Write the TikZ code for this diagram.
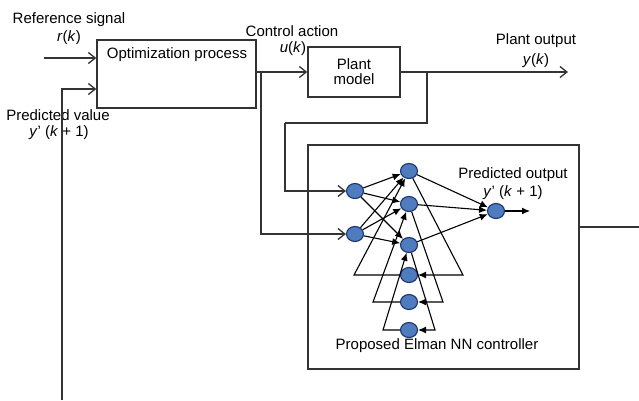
\documentclass[tikz,border=0pt]{standalone}
\usepackage{fontspec}
\setmainfont{Liberation Sans}
\usetikzlibrary{arrows.meta,shapes.geometric}

\definecolor{nnblue}{RGB}{79,124,190}
\definecolor{nnedge}{RGB}{28,52,110}

\begin{document}
\begin{tikzpicture}[x=1pt, y=-1pt, font=\fontsize{15}{17}\selectfont,
    block/.style={draw=black!80, line width=1.3pt, rectangle, inner sep=0pt},
    neuron/.style={ellipse, draw=nnedge, fill=nnblue, line width=1.1pt, minimum width=17pt, minimum height=15pt, inner sep=0pt},
    flow/.style={draw=black!80, line width=1.3pt, -{Straight Barb[length=7pt,width=11pt]}},
    wire/.style={draw=black!80, line width=1.3pt},
    link/.style={line width=1.1pt, -{Latex[length=8pt,width=7pt]}},
    txt/.style={inner sep=0pt, align=center}]

\useasboundingbox (0,0) rectangle (639,400);

% Blocks
\node[block, minimum width=159pt, minimum height=68pt] (opt) at (176.5,74) {};
\node[block, minimum width=92pt, minimum height=50pt, align=center] (plant) at (354,72) {Plant\\[-2pt]model};
\node[block, minimum width=271pt, minimum height=224pt] (elman) at (443.5,257) {};

% Texts
\node[txt] (optlabel) at (177,55) {Optimization process};
\node[txt] (reflabel) at (69,20) {Reference signal};
\node[txt] (rk) at (69,38) {\textit{r}(\textit{k})};
\node[txt] (predlabel) at (58,115) {Predicted value};
\node[txt] (predval) at (59,133) {\textit{y}' (\textit{k} + 1)};
\node[txt] (ctrllabel) at (292,31) {Control action};
\node[txt] (uk) at (293,49) {\textit{u}(\textit{k})};
\node[txt] (plantlabel) at (536,41) {Plant output};
\node[txt] (yk) at (536,61) {\textit{y}(\textit{k})};
\node[txt] (outlabel) at (513,175) {Predicted output};
\node[txt] (outval) at (513,193) {\textit{y}' (\textit{k} + 1)};
\node[txt] (elmanlabel) at (437,346) {Proposed Elman NN controller};

% Neurons
\node[neuron] (in1) at (355,191) {};
\node[neuron] (in2) at (355,234) {};
\foreach \i/\y in {1/171, 2/204, 3/245} {
    \node[neuron] (h\i) at (409,\y) {};
}
\foreach \i/\y in {1/275, 2/302, 3/330} {
    \node[neuron] (c\i) at (409,\y) {};
}
\node[neuron] (out) at (496,211) {};

% Free ends and corners
\coordinate (refin) at (44,58);
\coordinate (fbstart) at (62,400);
\coordinate (fbturn) at (62,89);
\coordinate (ubranch) at (261,72);
\coordinate (yout) at (568,72);
\coordinate (ybranch) at (427,72);
\coordinate (ybend) at (285,123);
\coordinate (nnexit) at (639,227);
\coordinate (pred) at (530,211);

% Block diagram connections
\draw[flow] (refin) -- (refin -| opt.west);
\draw[flow] (fbstart) -- (fbturn) -- (fbturn -| opt.west);
\draw[flow] (opt.east |- plant.west) -- (plant.west);
\draw[flow] (plant.east) -- (yout);
\draw[flow] (ubranch) |- (in2);
\draw[wire] (ybranch) |- (ybend);
\draw[flow] (ybend) |- (in1);
\draw[wire] (elman.east |- nnexit) -- (nnexit);

% Input to hidden layer
\foreach \i in {1,2} {
    \foreach \j in {1,2,3} {
        \draw[link] (in\i) -- (h\j);
    }
}

% Hidden to output
\foreach \j in {1,2,3} {
    \draw[link] (h\j) -- (out);
}
\draw[link] (out) -- (pred);

% Context feedback loops
\foreach \i/\y/\l/\r in {1/275/354/463, 2/302/373/443, 3/330/383/435} {
    \coordinate (cl\i) at (\l,\y);
    \coordinate (cr\i) at (\r,\y);
    \draw[link] (h\i) -- (cr\i) -- (c\i);
    \draw[link] (c\i) -- (cl\i) -- (h\i);
}

\end{tikzpicture}
\end{document}
